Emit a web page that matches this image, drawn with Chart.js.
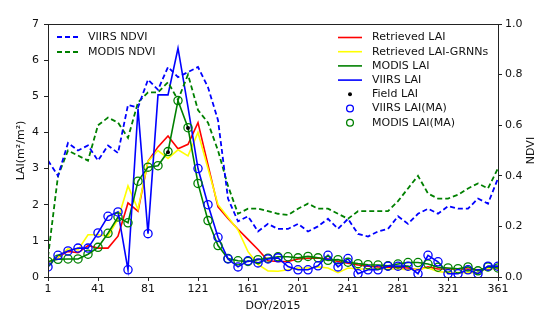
<!DOCTYPE html>
<html>
<head>
<meta charset="utf-8">
<script src="https://cdn.jsdelivr.net/npm/chart.js@4.4.1/dist/chart.umd.min.js"></script>
<style>
    html, body { margin: 0; padding: 0; background: #fff; }
</style>
</head>
<body>
<canvas id="grafico" width="550" height="320"></canvas>
<script>
// 8-day composites, DOY 2015
const doy = [1, 9, 17, 25, 33, 41, 49, 57, 65, 73, 81, 89, 97, 105, 113, 121, 129, 137, 145, 153, 161, 169, 177,
    185, 193, 201, 209, 217, 225, 233, 241, 249, 257, 265, 273, 281, 289, 297, 305, 313, 321, 329, 337, 345, 353, 361];

const xTicks = [1, 41, 81, 121, 161, 201, 241, 281, 321, 361];
const laiTicks = [0, 1, 2, 3, 4, 5, 6, 7];
const ndviTicks = [0, 0.2, 0.4, 0.6, 0.8, 1.0];

const retrievedLai = [0.39, 0.55, 0.71, 0.67, 0.87, 0.8, 0.8, 1.13, 2.05, 1.82, 3.2, 3.6, 3.9, 3.55, 3.67, 4.27, 3.1, 1.94, 1.62, 1.32, 1.04, 0.76, 0.45,
    0.43, 0.43, 0.5, 0.52, 0.53, 0.5, 0.43, 0.38, 0.33, 0.3, 0.28, 0.27, 0.26, 0.25, 0.2, 0.28, 0.22, 0.22, 0.22, 0.22, 0.2, 0.22, 0.25];

const retrievedGrnn = [0.39, 0.55, 0.78, 0.75, 1.17, 1.17, 1.13, 1.6, 2.52, 1.87, 3.2, 3.5, 3.28, 3.52, 3.35, 4.0, 3.0, 2.0, 1.65, 1.3, 0.7, 0.35, 0.17,
    0.16, 0.2, 0.25, 0.25, 0.28, 0.25, 0.12, 0.25, 0.22, 0.22, 0.22, 0.22, 0.22, 0.2, 0.22, 0.25, 0.15, 0.12, 0.12, 0.12, 0.12, 0.25, 0.22];

const modisLai = [0.43, 0.49, 0.5, 0.5, 0.63, 0.82, 1.21, 1.66, 1.5, 2.65, 3.04, 3.08, 3.47, 4.88, 4.13, 2.59, 1.56, 0.87, 0.51, 0.45, 0.43, 0.48, 0.52,
    0.56, 0.56, 0.53, 0.57, 0.53, 0.46, 0.48, 0.41, 0.37, 0.34, 0.33, 0.31, 0.36, 0.4, 0.4, 0.36, 0.27, 0.25, 0.23, 0.28, 0.17, 0.28, 0.25];

const viirsLai = [0.28, 0.6, 0.72, 0.8, 0.8, 1.22, 1.68, 1.8, 0.2, 4.65, 1.2, 5.04, 5.04, 6.33, 4.7, 3.0, 2.0, 1.1, 0.5, 0.28, 0.45, 0.39, 0.5,
    0.53, 0.29, 0.2, 0.2, 0.31, 0.6, 0.28, 0.51, 0.09, 0.2, 0.2, 0.3, 0.3, 0.3, 0.09, 0.6, 0.42, 0.09, 0.09, 0.2, 0.09, 0.3, 0.3];

// main-algorithm retrievals only (backup ones left out)
const viirsMa = [0.28, 0.6, 0.72, 0.8, 0.8, 1.22, 1.68, 1.8, 0.2, null, 1.2, null, null, null, null, 3.0, 2.0, 1.1, 0.5, 0.28, 0.45, 0.39, 0.5,
    0.53, 0.29, 0.2, 0.2, 0.31, 0.6, 0.28, 0.51, 0.09, 0.2, 0.2, 0.3, 0.3, 0.3, 0.09, 0.6, 0.42, 0.09, 0.09, 0.2, 0.09, 0.3, 0.3];
const modisMa = modisLai;

const fieldDoy = [97, 113];
const fieldLai = [3.45, 4.12];

const viirsNdvi = [0.46, 0.4, 0.53, 0.5, 0.52, 0.46, 0.52, 0.49, 0.68, 0.67, 0.78, 0.74, 0.83, 0.79, 0.81, 0.83, 0.75, 0.62, 0.31, 0.22, 0.24, 0.18, 0.21,
    0.19, 0.19, 0.21, 0.18, 0.2, 0.23, 0.19, 0.23, 0.17, 0.16, 0.18, 0.19, 0.24, 0.21, 0.25, 0.27, 0.25, 0.28, 0.27, 0.27, 0.31, 0.29, 0.39];

const modisNdvi = [0.08, 0.4, 0.5, 0.48, 0.46, 0.6, 0.63, 0.61, 0.55, 0.69, 0.73, 0.73, 0.77, 0.7, 0.8, 0.66, 0.61, 0.5, 0.36, 0.25, 0.27, 0.27, 0.26,
    0.25, 0.245, 0.27, 0.29, 0.27, 0.27, 0.25, 0.23, 0.26, 0.26, 0.26, 0.26, 0.3, 0.35, 0.4, 0.33, 0.31, 0.31, 0.325, 0.35, 0.37, 0.35, 0.43];

const FONTE = '"DejaVu Sans", sans-serif';
const COR_TEXTO = '#111';
const tituloNdvi = 'NDVI';

function pontos(xs, ys) {
    return xs.map((x, i) => ({ x: x, y: ys[i] }));
}

function linha(label, cor, valores, eixo, grupo, tracejado) {
    return {
        label: label,
        data: pontos(doy, valores),
        yAxisID: eixo,
        borderColor: cor,
        backgroundColor: cor,
        borderWidth: tracejado ? 1.8 : 1.6,
        borderDash: tracejado ? [5, 3] : [],
        pointRadius: 0,
        pointHoverRadius: 0,
        tension: 0,
        fill: false,
        grupo: grupo,
        amostra: tracejado ? "dash" : "line"
    };
}

function marcadores(label, cor, xs, ys, raio, cheio, grupo) {
    return {
        label: label,
        data: pontos(xs, ys),
        yAxisID: "y",
        showLine: false,
        borderColor: cor,
        backgroundColor: cheio ? cor : "rgba(0,0,0,0)",
        pointRadius: raio,
        pointBorderWidth: cheio ? 0 : 1.3,
        pointStyle: "circle",
        grupo: grupo,
        amostra: cheio ? "dot" : "circle"
    };
}

const datasets = [
    Object.assign(linha("VIIRS NDVI", "#0000ff", viirsNdvi, "y2", "esq", true), { order: 1 }),
    Object.assign(linha("MODIS NDVI", "#008000", modisNdvi, "y2", "esq", true), { order: 1 }),
    Object.assign(linha("Retrieved LAI", "#ff0000", retrievedLai, "y", "dir", false), { order: 6 }),
    Object.assign(linha("Retrieved LAI-GRNNs", "#ffff00", retrievedGrnn, "y", "dir", false), { order: 5 }),
    Object.assign(linha("MODIS LAI", "#008000", modisLai, "y", "dir", false), { order: 4 }),
    Object.assign(linha("VIIRS LAI", "#0000ff", viirsLai, "y", "dir", false), { order: 3 }),
    Object.assign(marcadores("Field LAI", "#000000", fieldDoy, fieldLai, 2, true, "dir"), { order: 0 }),
    Object.assign(marcadores("VIIRS LAI(MA)", "#0000ff", doy, viirsMa, 4.1, false, "dir"), { order: 2 }),
    Object.assign(marcadores("MODIS LAI(MA)", "#008000", doy, modisMa, 4.1, false, "dir"), { order: 2 })
];

// legends and frame drawn by hand, matplotlib style
const legendas = {
    id: "legendas",
    afterDatasetsDraw(chart) {
        const ctx = chart.ctx;
        const a = chart.chartArea;
        ctx.save();
        ctx.strokeStyle = "#222";
        ctx.lineWidth = 1;
        ctx.strokeRect(Math.round(a.left) + 0.5, Math.round(a.top) + 0.5, Math.round(a.right - a.left), Math.round(a.bottom - a.top));
        ctx.restore();
    },
    afterDraw(chart) {
        const ctx = chart.ctx;
        const grupos = {
            esq: { x0: 57, x1: 80, xt: 88, y: 37, passo: 15 },
            dir: { x0: 338, x1: 362, xt: 372, y: 37.5, passo: 14.2 }
        };
        ctx.save();
        ctx.font = "11px " + FONTE;
        ctx.textBaseline = "middle";
        ctx.textAlign = "left";
        Object.keys(grupos).forEach(g => {
            const p = grupos[g];
            chart.data.datasets.filter(d => d.grupo === g).forEach((d, i) => {
                const y = p.y + i * p.passo;
                ctx.strokeStyle = d.borderColor;
                ctx.fillStyle = d.backgroundColor;
                if (d.amostra === "line" || d.amostra === "dash") {
                    ctx.lineWidth = d.borderWidth;
                    ctx.setLineDash(d.borderDash);
                    ctx.beginPath();
                    ctx.moveTo(p.x0, y);
                    ctx.lineTo(p.x1, y);
                    ctx.stroke();
                    ctx.setLineDash([]);
                } else {
                    ctx.lineWidth = d.pointBorderWidth || 1;
                    ctx.beginPath();
                    ctx.arc((p.x0 + p.x1) / 2, y, Math.min(d.pointRadius, 3.4), 0, Math.PI * 2);
                    if (d.amostra === "dot") ctx.fill(); else ctx.stroke();
                }
                ctx.fillStyle = COR_TEXTO;
                ctx.fillText(d.label, p.xt, y);
            });
        });
        // right axis title reads bottom-to-top like the left one
        const a = chart.chartArea;
        ctx.translate(531, (a.top + a.bottom) / 2);
        ctx.rotate(-Math.PI / 2);
        ctx.textAlign = "center";
        ctx.fillText(tituloNdvi, 0, 0);
        ctx.restore();
    }
};

const fonte = { family: FONTE, size: 11 };

new Chart(document.getElementById("grafico").getContext("2d"), {
    type: "line",
    data: { datasets: datasets },
    plugins: [legendas],
    options: {
        responsive: false,
        animation: false,
        events: [],
        layout: { padding: { top: 24, left: 0, right: 0, bottom: 0 } },
        plugins: { legend: { display: false }, tooltip: { enabled: false } },
        scales: {
            x: {
                type: "linear",
                min: 1,
                max: 361,
                afterBuildTicks: s => { s.ticks = xTicks.map(v => ({ value: v })); },
                afterFit: s => { s.height = 43; },
                grid: { drawOnChartArea: false, drawTicks: true, tickLength: 4, color: "#222" },
                border: { display: false },
                ticks: { color: COR_TEXTO, font: fonte, padding: 2, maxRotation: 0, autoSkip: false },
                title: { display: true, text: "DOY/2015", color: COR_TEXTO, font: fonte, padding: { top: 0, bottom: 7.5 } }
            },
            y: {
                position: "left",
                min: 0,
                max: 7,
                afterBuildTicks: s => { s.ticks = laiTicks.map(v => ({ value: v })); },
                afterFit: s => { s.width = 48; },
                grid: { drawOnChartArea: false, drawTicks: true, tickLength: 4, color: "#222" },
                border: { display: false },
                ticks: { color: COR_TEXTO, font: fonte, padding: 5, autoSkip: false },
                title: { display: true, text: "LAI(m²/m²)", color: COR_TEXTO, font: fonte, padding: { top: 15, bottom: 0 } }
            },
            y2: {
                position: "right",
                min: 0,
                max: 1,
                afterBuildTicks: s => { s.ticks = ndviTicks.map(v => ({ value: v })); },
                afterFit: s => { s.width = 52; },
                grid: { drawOnChartArea: false, drawTicks: true, tickLength: 4, color: "#222" },
                border: { display: false },
                ticks: { color: COR_TEXTO, font: fonte, padding: 3, autoSkip: false, callback: v => v.toFixed(1) },
                title: { display: false }
            }
        }
    }
});
</script>
</body>
</html>
